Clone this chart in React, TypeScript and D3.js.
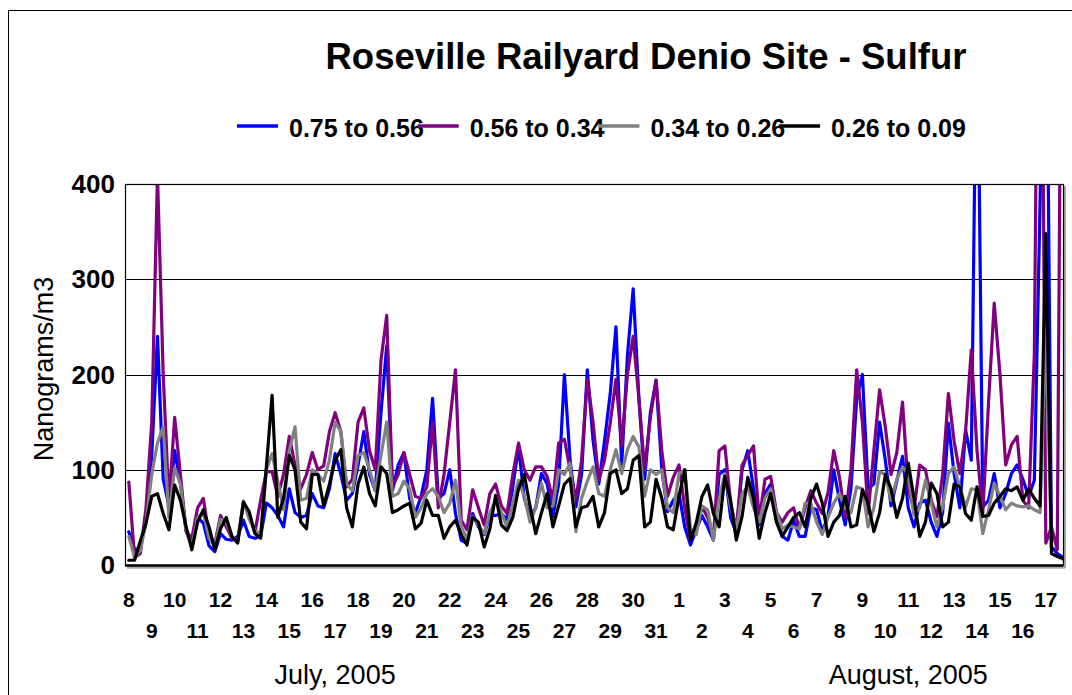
import React from 'react';
import * as d3 from 'd3';

const FONT = "'Liberation Sans', Arial, Helvetica, sans-serif";

// Samples are taken every 6 hours, starting 8 July 2005 00:00.
const SAMPLE_START = Date.UTC(2005, 6, 8);
const SAMPLE_HOURS = 6;

const seriesNames = ['0.75 to 0.56', '0.56 to 0.34', '0.34 to 0.26', '0.26 to 0.09'];
const seriesColors = ['#0000FF', '#800080', '#808080', '#000000'];

// Sulfur, ng/m3 — one row per day (00h, 06h, 12h, 18h)
const size075to056 = [
  35, 16, 18, 45,
  115, 240, 90, 62,
  120, 86, 35, 22,
  50, 44, 20, 14,
  33, 27, 26, 30,
  47, 30, 28, 30,
  65, 60, 52, 40,
  80, 55, 50, 52,
  75, 62, 60, 80,
  117, 95, 68, 75,
  105, 140, 95, 78,
  160, 230, 78, 105,
  118, 70, 55, 72,
  100, 175, 70, 75,
  100, 54, 26, 23,
  54, 40, 32, 52,
  52, 54, 48, 82,
  124, 70, 51, 60,
  96, 85, 51, 85,
  200, 110, 61, 95,
  205, 131, 85, 130,
  180, 250, 105, 220,
  290, 175, 90, 160,
  194, 100, 56, 68,
  75, 40, 21, 37,
  52, 40, 26, 95,
  100, 50, 33, 100,
  120, 80, 42, 75,
  85, 55, 30, 26,
  47, 30, 30, 60,
  58, 35, 51, 100,
  68, 42, 80, 175,
  200, 80, 85, 150,
  110, 62, 88, 114,
  60, 40, 65, 68,
  45, 30, 55, 149,
  96, 60, 142, 110,
  620, 61, 68, 96,
  60, 75, 96, 105,
  90, 72, 89, 380,
  700, 19, 12, 8,
];

const size056to034 = [
  87, 8, 12, 60,
  150, 410, 200, 65,
  155, 95, 35, 28,
  60, 70, 30, 22,
  52, 40, 28, 26,
  66, 52, 34, 68,
  98, 98, 72, 95,
  135, 105, 80, 95,
  118, 100, 104, 140,
  160, 140, 82, 90,
  150, 165, 120, 100,
  215, 262, 82, 95,
  118, 95, 72, 70,
  82, 150, 60, 95,
  150, 205, 47, 37,
  79, 60, 42, 75,
  85, 62, 54, 95,
  128, 100, 89, 103,
  103, 93, 68, 128,
  132, 100, 68, 110,
  195, 150, 89, 110,
  149, 195, 125, 200,
  240, 175, 100, 155,
  194, 120, 72, 92,
  105, 60, 26, 40,
  61, 50, 28, 120,
  125, 65, 37, 105,
  115, 125, 47, 90,
  93, 55, 45, 55,
  60, 38, 60, 78,
  65, 54, 76, 120,
  92, 50, 100, 205,
  150, 54, 120, 184,
  145, 95, 118, 171,
  80, 58, 105, 100,
  68, 51, 95, 180,
  130, 96, 140, 226,
  120, 54, 170, 275,
  200, 105, 126, 135,
  68, 60, 222, 900,
  23, 40, 16, 900,
];

const size034to026 = [
  30, 8, 15, 45,
  95, 128, 145, 50,
  102, 85, 35, 20,
  50, 55, 28, 20,
  48, 45, 30, 24,
  67, 48, 36, 33,
  100, 117, 88, 58,
  120, 145, 68, 70,
  100, 95, 88, 110,
  150, 140, 85, 78,
  115, 118, 100, 78,
  115, 150, 72, 75,
  88, 80, 50, 60,
  75, 80, 72, 55,
  65, 89, 40, 28,
  51, 42, 33, 55,
  68, 55, 40, 65,
  89, 72, 45, 60,
  86, 60, 62, 100,
  95, 107, 35, 70,
  88, 103, 75, 72,
  100, 121, 96, 121,
  135, 124, 72, 100,
  95, 100, 60, 55,
  96, 100, 38, 32,
  62, 58, 26, 70,
  96, 61, 37, 75,
  82, 60, 45, 70,
  80, 55, 38, 42,
  40, 38, 65, 65,
  45, 32, 50, 65,
  75, 60, 55, 82,
  80, 40, 60, 98,
  95, 68, 90, 103,
  95, 52, 60, 89,
  65, 40, 61, 96,
  103, 82, 61, 80,
  79, 33, 58, 86,
  72, 58, 65, 62,
  61, 62, 58, 55,
  250, 12, 9, 6,
];

const size026to009 = [
  5, 5, 25, 44,
  72, 75, 54, 37,
  84, 68, 40, 16,
  45, 58, 40, 16,
  38, 50, 30, 23,
  66, 56, 33, 28,
  103, 178, 50, 70,
  115, 100, 45, 38,
  95, 95, 62, 85,
  110, 121, 60, 40,
  85, 103, 75, 62,
  103, 96, 55, 58,
  62, 65, 38, 44,
  68, 52, 52, 28,
  40, 47, 32, 21,
  50, 45, 19, 38,
  73, 42, 36, 50,
  80, 95, 62, 33,
  55, 75, 40, 62,
  85, 91, 40, 60,
  62, 72, 40, 55,
  96, 100, 75, 80,
  110, 115, 40, 45,
  90, 70, 40, 37,
  72, 100, 26, 44,
  72, 84, 54, 40,
  93, 68, 26, 51,
  92, 70, 28, 55,
  75, 45, 30, 40,
  50, 55, 40, 70,
  85, 65, 30, 45,
  52, 72, 40, 42,
  79, 65, 35, 55,
  95, 80, 50, 70,
  107, 70, 30, 45,
  86, 75, 40, 45,
  85, 82, 54, 47,
  82, 51, 52, 65,
  72, 80, 78, 82,
  68, 80, 70, 62,
  348, 12, 9, 7,
];

const yTicks = [0, 100, 200, 300, 400];
const monthLabels = ['July, 2005', 'August, 2005'];

const series = [size075to056, size056to034, size034to026, size026to009].map((values, i) => ({
  name: seriesNames[i],
  color: seriesColors[i],
  values,
}));

export default function App() {
  const width = 1072;
  const height = 695;
  const plot = { left: 125, right: 1063, top: 184, bottom: 565 };

  const x = d3
    .scaleUtc()
    .domain([new Date(Date.UTC(2005, 6, 7, 20)), new Date(Date.UTC(2005, 7, 17, 18))])
    .range([plot.left, plot.right]);
  const y = d3.scaleLinear().domain([0, 400]).range([plot.bottom, plot.top]);

  const timeAt = (i: number) => new Date(SAMPLE_START + i * SAMPLE_HOURS * 3600 * 1000);
  const line = d3
    .line<number>()
    .x((_, i) => x(timeAt(i)))
    .y((v) => y(v));

  const days = d3.utcDay.range(new Date(Date.UTC(2005, 6, 8)), new Date(Date.UTC(2005, 7, 18)));
  const monthCenters = [new Date(Date.UTC(2005, 6, 17)), new Date(Date.UTC(2005, 7, 11))];

  const legendStart = 237;
  const legendStep = 180.7;

  return (
    <svg
      width={width}
      height={height}
      style={{ position: 'absolute', left: 0, top: 0, background: '#fff' }}
      fontFamily={FONT}
    >
      <defs>
        <clipPath id="plot-clip">
          <rect x={plot.left} y={plot.top} width={plot.right - plot.left} height={plot.bottom - plot.top} />
        </clipPath>
      </defs>

      <rect x={0} y={0} width={width} height={height} fill="#fff" />
      <rect x={8.5} y={10.5} width={1200} height={1000} fill="#fff" stroke="#000" strokeWidth={1} />

      <text x={646} y={69} textAnchor="middle" fontSize={36.5} fontWeight="bold">
        Roseville Railyard Denio Site - Sulfur
      </text>

      {series.map((s, i) => {
        const lx = legendStart + i * legendStep;
        return (
          <g key={s.name}>
            <text x={lx + 52} y={137} fontSize={25} fontWeight="bold">
              {s.name}
            </text>
            <line x1={lx} x2={lx + 41} y1={126} y2={126} stroke={s.color} strokeWidth={3.5} />
          </g>
        );
      })}

      {/* plot frame shadow */}
      <line x1={plot.left + 2} x2={plot.right + 2} y1={plot.bottom + 2.5} y2={plot.bottom + 2.5} stroke="#a8a8a8" strokeWidth={2.5} />
      <line x1={plot.right + 2} x2={plot.right + 2} y1={plot.top + 2} y2={plot.bottom + 3} stroke="#a8a8a8" strokeWidth={2} />

      {yTicks.map((t) => (
        <g key={t}>
          {t > 0 && t < 400 && (
            <line x1={plot.left} x2={plot.right} y1={Math.round(y(t)) + 0.5} y2={Math.round(y(t)) + 0.5} stroke="#000" strokeWidth={1} />
          )}
          <text x={115} y={y(t) + 9} textAnchor="end" fontSize={26} fontWeight="bold">
            {t}
          </text>
        </g>
      ))}

      <g clipPath="url(#plot-clip)">
        {series.map((s) => (
          <path
            key={s.name}
            d={line(s.values) || ''}
            fill="none"
            stroke={s.color}
            strokeWidth={3.2}
            strokeLinejoin="round"
            strokeLinecap="round"
          />
        ))}
      </g>

      <rect
        x={plot.left + 0.5}
        y={plot.top + 0.5}
        width={plot.right - plot.left}
        height={plot.bottom - plot.top}
        fill="none"
        stroke="#000"
        strokeWidth={1.2}
      />
      <line x1={plot.left} x2={plot.right} y1={plot.bottom + 0.5} y2={plot.bottom + 0.5} stroke="#000" strokeWidth={2.5} />

      <text
        transform={`translate(53, 369) rotate(-90)`}
        textAnchor="middle"
        fontSize={27}
      >
        Nanograms/m3
      </text>

      {days.map((d, i) => (
        <text
          key={d.toISOString()}
          x={x(d)}
          y={i % 2 === 0 ? 607 : 638}
          textAnchor="middle"
          fontSize={21}
          fontWeight="bold"
        >
          {d.getUTCDate()}
        </text>
      ))}

      {monthLabels.map((m, i) => (
        <text key={m} x={x(monthCenters[i])} y={684} textAnchor="middle" fontSize={27}>
          {m}
        </text>
      ))}
    </svg>
  );
}
